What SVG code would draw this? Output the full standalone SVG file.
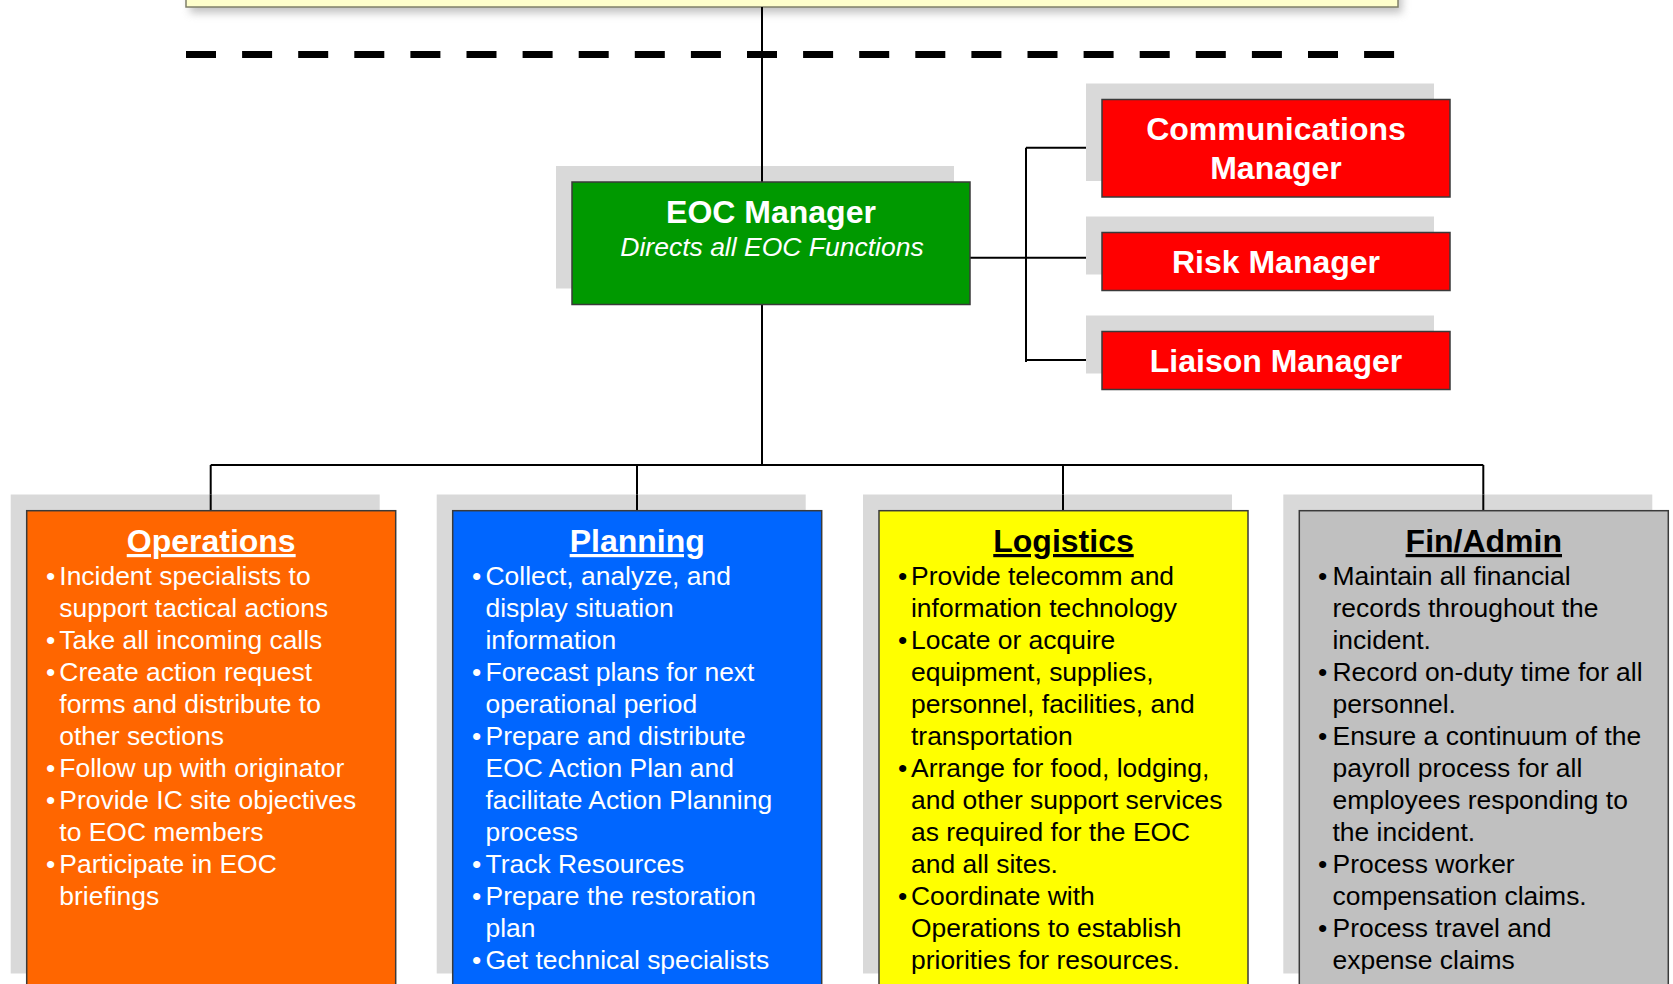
<svg xmlns="http://www.w3.org/2000/svg" width="1673" height="984" viewBox="0 0 1673 984">
<style>
text{font-family:"Liberation Sans",Arial,sans-serif}
.shadow{fill:#D9D9D9}
.box{stroke:#3a3a3a;stroke-width:1.5}
.conn{stroke:#000;stroke-width:2;fill:none}
.hd{font-size:32px;font-weight:bold;text-anchor:middle}
.ttl{font-size:32px;font-weight:bold;text-anchor:middle;fill:#fff}
.sub{font-size:26.5px;font-style:italic;text-anchor:middle;fill:#fff}
.li{font-size:26.45px}
.u{text-decoration:underline}
.w{fill:#fff}
.k{fill:#000}
</style>
<defs>
<filter id="blur" x="-5%" y="-50%" width="110%" height="200%"><feGaussianBlur stdDeviation="4"/></filter>
</defs>
<rect width="1673" height="984" fill="#fff"/>

<g id="top-box">
<rect x="190" y="-20" width="1212" height="33" fill="#999" opacity="0.6" filter="url(#blur)"/>
<rect x="186" y="-20" width="1212" height="27" fill="#FFFFCC" stroke="#80806A" stroke-width="1.5"/>
</g>

<g id="connectors">
<line class="conn" x1="762" y1="7" x2="762" y2="182"/>
<line class="conn" x1="762" y1="304" x2="762" y2="465"/>
<line class="conn" x1="210.7" y1="465" x2="1483.3" y2="465"/>
<line class="conn" x1="210.7" y1="465" x2="210.7" y2="511"/>
<line class="conn" x1="637" y1="465" x2="637" y2="511"/>
<line class="conn" x1="1063" y1="465" x2="1063" y2="511"/>
<line class="conn" x1="1483.3" y1="465" x2="1483.3" y2="511"/>
<line class="conn" x1="970" y1="257.7" x2="1102" y2="257.7"/>
<line class="conn" x1="1026" y1="147.7" x2="1026" y2="362"/>
<line class="conn" x1="1026" y1="147.7" x2="1102" y2="147.7"/>
<line class="conn" x1="1026" y1="360" x2="1102" y2="360"/>
</g>

<g id="divider">
<line x1="186" y1="54.5" x2="1398" y2="54.5" stroke="#000" stroke-width="7" stroke-dasharray="30 26.1"/>
</g>

<g id="eoc-manager">
<rect class="shadow" x="556" y="166" width="398" height="122.5"/>
<line class="conn" x1="762" y1="166" x2="762" y2="182"/>
<rect class="box" x="572" y="182" width="398" height="122.5" fill="#009900"/>
<text class="ttl" x="771" y="223">EOC Manager</text>
<text class="sub" x="772" y="256">Directs all EOC Functions</text>
</g>

<g id="communications-manager">
<rect class="shadow" x="1086" y="83.5" width="348" height="97.5"/>
<rect class="box" x="1102" y="99.5" width="348" height="97.5" fill="#FF0000"/>
<text class="ttl" x="1276" y="139.5">Communications</text>
<text class="ttl" x="1276" y="178.5">Manager</text>
</g>

<g id="risk-manager">
<rect class="shadow" x="1086" y="216.5" width="348" height="58"/>
<rect class="box" x="1102" y="232.5" width="348" height="58" fill="#FF0000"/>
<text class="ttl" x="1276" y="272.5">Risk Manager</text>
</g>

<g id="liaison-manager">
<rect class="shadow" x="1086" y="315.5" width="348" height="58"/>
<rect class="box" x="1102" y="331.5" width="348" height="58" fill="#FF0000"/>
<text class="ttl" x="1276" y="371.5">Liaison Manager</text>
</g>

<g id="operations">
<rect class="shadow" x="10.7" y="494.5" width="369" height="479"/>
<line class="conn" x1="210.7" y1="494.5" x2="210.7" y2="511"/>
<rect class="box" x="26.7" y="510.7" width="369" height="490" fill="#FF6600"/>
<text class="hd w u" x="211.2" y="552">Operations</text>
<g class="li w">
<text x="46" y="585">•</text><text x="59.3" y="585">Incident specialists to</text>
<text x="59.3" y="617">support tactical actions</text>
<text x="46" y="649">•</text><text x="59.3" y="649">Take all incoming calls</text>
<text x="46" y="681">•</text><text x="59.3" y="681">Create action request</text>
<text x="59.3" y="713">forms and distribute to</text>
<text x="59.3" y="745">other sections</text>
<text x="46" y="777">•</text><text x="59.3" y="777">Follow up with originator</text>
<text x="46" y="809">•</text><text x="59.3" y="809">Provide IC site objectives</text>
<text x="59.3" y="841">to EOC members</text>
<text x="46" y="873">•</text><text x="59.3" y="873">Participate in EOC</text>
<text x="59.3" y="905">briefings</text>
</g>
</g>

<g id="planning">
<rect class="shadow" x="436.7" y="494.5" width="369" height="479"/>
<line class="conn" x1="637" y1="494.5" x2="637" y2="511"/>
<rect class="box" x="452.7" y="510.7" width="369" height="490" fill="#0066FF"/>
<text class="hd w u" x="637.2" y="552">Planning</text>
<g class="li w">
<text x="472" y="585">•</text><text x="485.5" y="585">Collect, analyze, and</text>
<text x="485.5" y="617">display situation</text>
<text x="485.5" y="649">information</text>
<text x="472" y="681">•</text><text x="485.5" y="681">Forecast plans for next</text>
<text x="485.5" y="713">operational period</text>
<text x="472" y="745">•</text><text x="485.5" y="745">Prepare and distribute</text>
<text x="485.5" y="777">EOC Action Plan and</text>
<text x="485.5" y="809">facilitate Action Planning</text>
<text x="485.5" y="841">process</text>
<text x="472" y="873">•</text><text x="485.5" y="873">Track Resources</text>
<text x="472" y="905">•</text><text x="485.5" y="905">Prepare the restoration</text>
<text x="485.5" y="937">plan</text>
<text x="472" y="969">•</text><text x="485.5" y="969">Get technical specialists</text>
</g>
</g>

<g id="logistics">
<rect class="shadow" x="863" y="494.5" width="369" height="479"/>
<line class="conn" x1="1063" y1="494.5" x2="1063" y2="511"/>
<rect class="box" x="879" y="510.7" width="369" height="490" fill="#FFFF00"/>
<text class="hd k u" x="1063.5" y="552">Logistics</text>
<g class="li k">
<text x="898" y="585">•</text><text x="911" y="585">Provide telecomm and</text>
<text x="911" y="617">information technology</text>
<text x="898" y="649">•</text><text x="911" y="649">Locate or acquire</text>
<text x="911" y="681">equipment, supplies,</text>
<text x="911" y="713">personnel, facilities, and</text>
<text x="911" y="745">transportation</text>
<text x="898" y="777">•</text><text x="911" y="777">Arrange for food, lodging,</text>
<text x="911" y="809">and other support services</text>
<text x="911" y="841">as required for the EOC</text>
<text x="911" y="873">and all sites.</text>
<text x="898" y="905">•</text><text x="911" y="905">Coordinate with</text>
<text x="911" y="937">Operations to establish</text>
<text x="911" y="969">priorities for resources.</text>
</g>
</g>

<g id="fin-admin">
<rect class="shadow" x="1283.3" y="494.5" width="369" height="479"/>
<line class="conn" x1="1483.3" y1="494.5" x2="1483.3" y2="511"/>
<rect class="box" x="1299.3" y="510.7" width="369" height="490" fill="#C0C0C0"/>
<text class="hd k u" x="1483.8" y="552">Fin/Admin</text>
<g class="li k">
<text x="1318" y="585">•</text><text x="1332.5" y="585">Maintain all financial</text>
<text x="1332.5" y="617">records throughout the</text>
<text x="1332.5" y="649">incident.</text>
<text x="1318" y="681">•</text><text x="1332.5" y="681">Record on-duty time for all</text>
<text x="1332.5" y="713">personnel.</text>
<text x="1318" y="745">•</text><text x="1332.5" y="745">Ensure a continuum of the</text>
<text x="1332.5" y="777">payroll process for all</text>
<text x="1332.5" y="809">employees responding to</text>
<text x="1332.5" y="841">the incident.</text>
<text x="1318" y="873">•</text><text x="1332.5" y="873">Process worker</text>
<text x="1332.5" y="905">compensation claims.</text>
<text x="1318" y="937">•</text><text x="1332.5" y="937">Process travel and</text>
<text x="1332.5" y="969">expense claims</text>
</g>
</g>
</svg>
